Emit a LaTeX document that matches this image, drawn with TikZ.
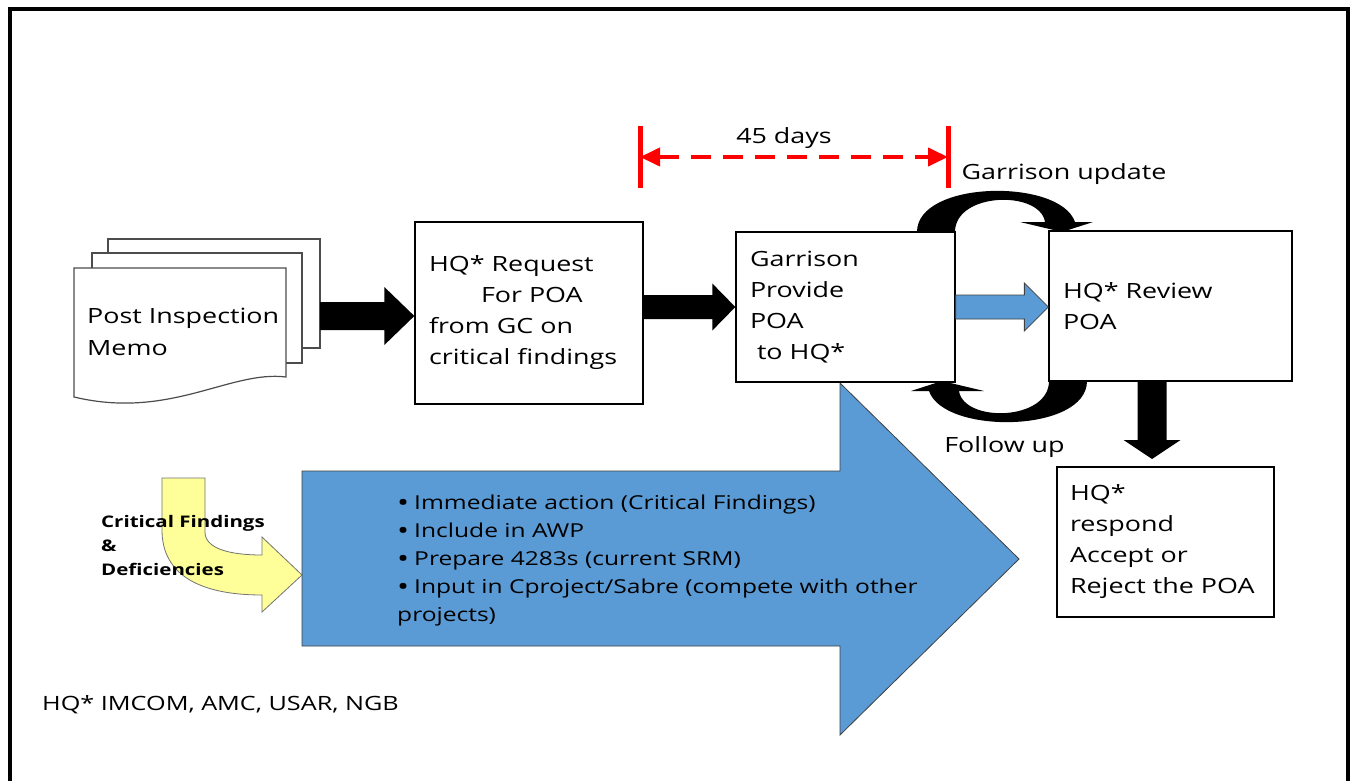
\documentclass[tikz,border=0pt]{standalone}
\usepackage{fontspec}
\setmainfont{Open Sans}[FakeStretch=1.28]
\usetikzlibrary{arrows.meta,calc}

\definecolor{poablue}{RGB}{91,155,213}
\definecolor{poayellow}{RGB}{255,255,153}

% block arrows: style, from, to, half shaft, half head, head length
\newcommand\blockarrowh[6]{\path[#1] let \p1=(#2), \p2=(#3) in
  (\x1,\y1+#4) -- (\x2-#6,\y1+#4) -- (\x2-#6,\y1+#5) -- (\x2,\y1) --
  (\x2-#6,\y1-#5) -- (\x2-#6,\y1-#4) -- (\x1,\y1-#4) -- cycle;}
\newcommand\blockarrowv[6]{\path[#1] let \p1=(#2), \p2=(#3) in
  (\x1+#4,\y1) -- (\x1+#4,\y2+#6) -- (\x1+#5,\y2+#6) -- (\x1,\y2) --
  (\x1-#5,\y2+#6) -- (\x1-#4,\y2+#6) -- (\x1-#4,\y1) -- cycle;}
\newcommand\bul{\raisebox{-2pt}{\fontsize{25}{28}\selectfont•}\hspace{5pt}}

\tikzset{
  box/.style={draw, line width=1.3pt, fill=white, align=left, inner xsep=14pt,
    inner ysep=0pt, font=\fontsize{21}{31}\selectfont},
  page/.style={draw=black!70, line width=1.2pt, fill=white},
  note/.style={inner sep=0pt, font=\fontsize{21}{31}\selectfont},
  blackarrow/.style={fill=black},
  bluearrow/.style={fill=poablue, draw=black!75, line width=0.8pt},
  looparrow/.pic={
    \fill (917,232) .. controls (917,180) and (1060,178) .. (1075,222)
      -- (1093,222) -- (1062,232) -- (1020,222) -- (1045,222)
      .. controls (1040,190) and (955,192) .. (955,232) -- cycle;
  },
}

\begin{document}
\begin{tikzpicture}[x=1pt, y=-1pt]
\useasboundingbox (0,0) rectangle (1353,781);

% Frame
\draw[line width=4pt] (10,781) -- (10,9) -- (1348,9) -- (1348,781);

% Memo stack
\draw[page] (108,239) rectangle (320,348);
\draw[page] (92,253) rectangle (302,363);
\draw[page] (74,268) -- (286,268) -- (286,377)
  .. controls (230,370) and (170,420) .. (74,397) -- cycle;
\node[note, anchor=west, align=left, font=\fontsize{21}{32}\selectfont] (memo) at (87,332) {Post Inspection\\Memo};

% Big blue arrow and yellow bent arrow
\draw[bluearrow] (302,471) -- (840,471) -- (840,383) -- (1019,559)
  -- (840,735) -- (840,646) -- (302,646) -- cycle;
\node[note, anchor=north west, align=left, font=\fontsize{19.2}{28}\selectfont] (acts) at (397,495)
  {\bul Immediate action (Critical Findings)\\\bul Include in AWP\\\bul Prepare 4283s (current SRM)\\\bul Input in Cproject/Sabre (compete with other\\projects)};
\draw[fill=poayellow, draw=black!55, line width=0.8pt] (162,478) -- (205,478) -- (205,532)
  .. controls (205,548) and (228,555) .. (262,555) -- (262,537) -- (302,575)
  -- (262,612) -- (262,595) .. controls (200,595) and (162,575) .. (162,530) -- cycle;
\node[note, anchor=west, align=left, font=\bfseries\fontsize{16}{24}\selectfont] (crit) at (101,545) {Critical Findings\\\&\\Deficiencies};

% Boxes
\node[box, minimum width=228pt, minimum height=182pt, text width=200pt] (req) at (529,313)
  {HQ* Request\\\hspace*{52pt}For POA\\from GC on\\critical findings};
\node[box, minimum width=219pt, minimum height=150pt, text width=191pt] (gar) at (845.5,307)
  {Garrison\\Provide\\POA\\\hspace*{7pt}to HQ*};
\node[box, minimum width=243pt, minimum height=150pt, text width=215pt] (rev) at (1170.5,306)
  {HQ* Review\\POA};
\node[box, minimum width=217pt, minimum height=150pt, text width=191pt, inner xsep=13pt] (resp) at (1165.5,542)
  {HQ*\\respond\\Accept or\\Reject the POA};

% Block arrows
\coordinate (a1) at (320,316);
\blockarrowh{blackarrow}{a1}{req.west}{14pt}{29pt}{30pt}
\blockarrowh{blackarrow}{req.east |- gar.west}{gar.west}{12pt}{23.5pt}{23pt}
\blockarrowh{bluearrow}{gar.east}{rev.west}{12pt}{24pt}{24pt}
\coordinate (a4) at (1152,381);
\coordinate (a4t) at (1152,459);
\blockarrowv{blackarrow}{a4}{a4t}{14.5pt}{28.5pt}{19pt}

% Loop arrows
\pic at (0,0) {looparrow};
\pic[rotate=180] at (2004,613) {looparrow};
\node[note] (upd) at (1064,174) {Garrison update};
\node[note] (fol) at (1004.5,447) {Follow up};

% 45 days
\coordinate (d1) at (640,157);
\coordinate (d2) at (948,157);
\draw[red, line width=5pt] ($(d1)+(0,-31)$) -- ($(d1)+(0,31)$);
\draw[red, line width=5pt] ($(d2)+(0,-31)$) -- ($(d2)+(0,31)$);
\draw[red, line width=4pt, dash pattern=on 20pt off 12pt,
  {Triangle[length=20pt,width=18pt]}-{Triangle[length=20pt,width=18pt]}] (d1) -- (d2);
\node[note] (days) at (784,138) {45 days};

\node[note, anchor=west, font=\fontsize{19.7}{28}\selectfont] (hqlist) at (42,705) {HQ* IMCOM, AMC, USAR, NGB};
\end{tikzpicture}
\end{document}
